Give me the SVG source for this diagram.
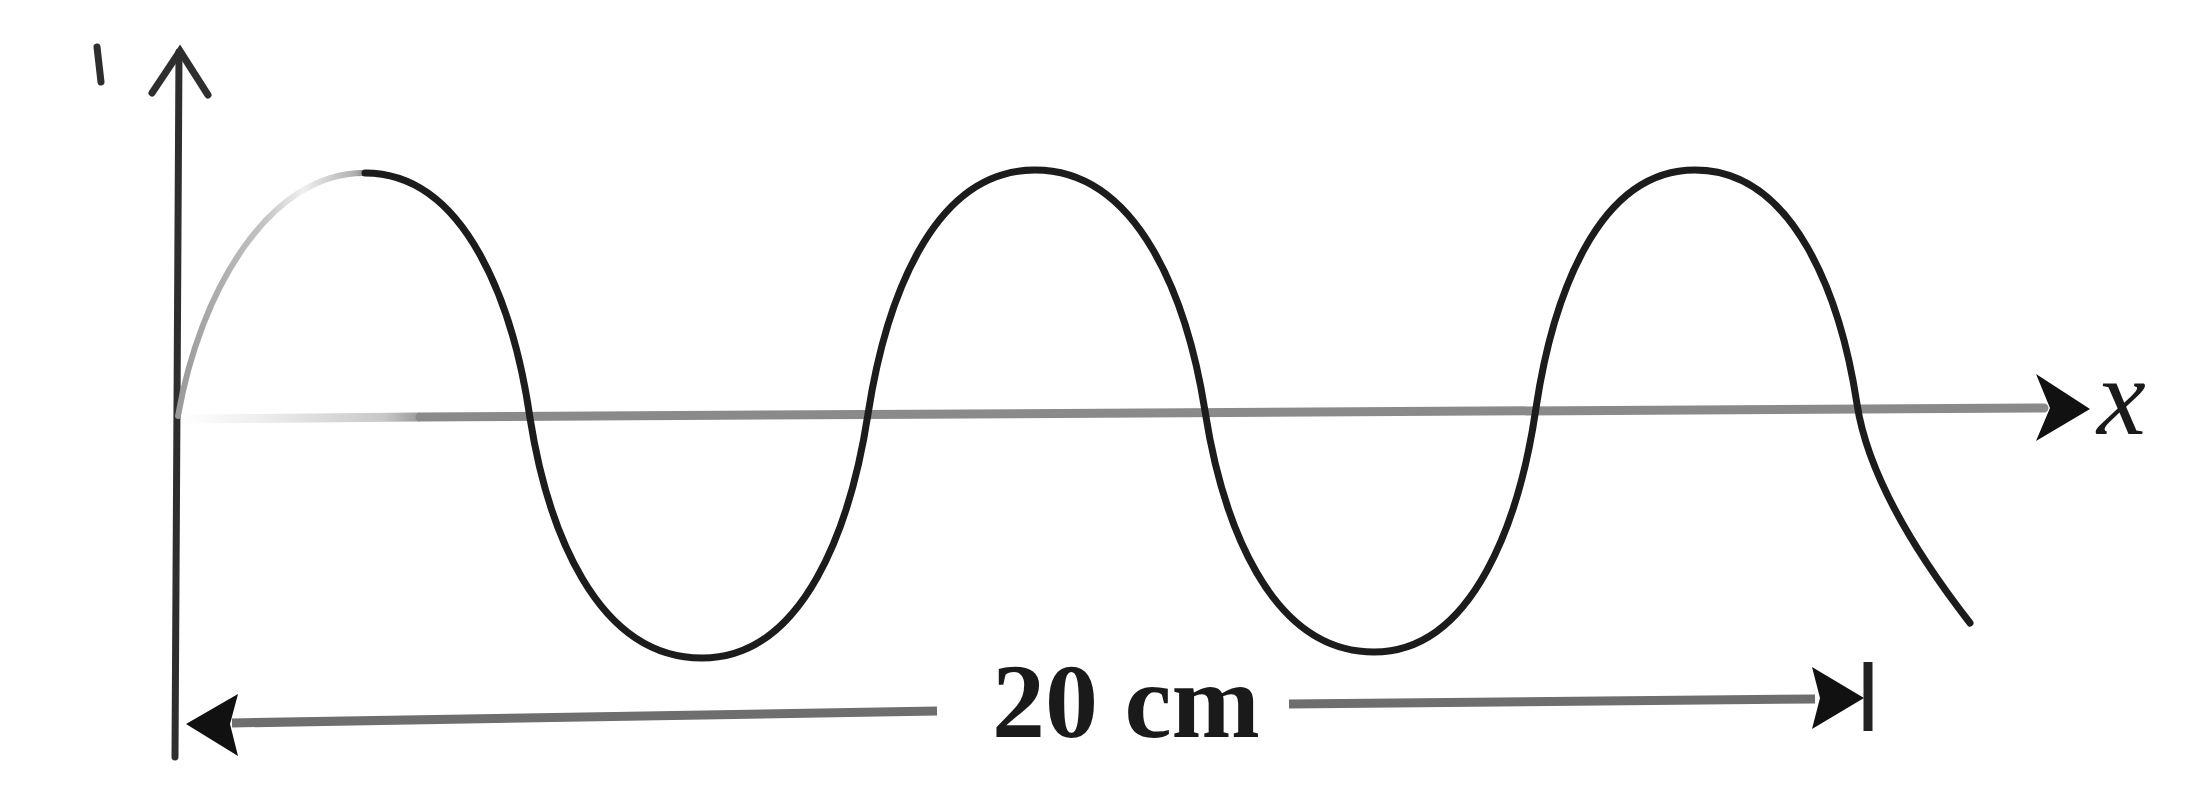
<svg xmlns="http://www.w3.org/2000/svg" width="2188" height="791" viewBox="0 0 2188 791">
  <defs>
    <style>
      .axis { stroke: #2e2e2e; stroke-width: 7; fill: none; stroke-linecap: round; }
      .xaxis { stroke: #8a8a8a; stroke-width: 9; fill: none; stroke-linecap: round; }
      .wave { stroke: #1c1c1c; stroke-width: 7; fill: none; stroke-linecap: round; }
      .dim { stroke: #6e6e6e; stroke-width: 9; fill: none; }
      .head { fill: #111; }
      .lbl { font-family: "Liberation Serif", "Times New Roman", serif; fill: #1a1a1a; }
    </style>
    <linearGradient id="fadeWave" gradientUnits="userSpaceOnUse" x1="178" y1="0" x2="370" y2="0">
      <stop offset="0" stop-color="#9a9a9a"/>
      <stop offset="0.45" stop-color="#c4c4c4"/>
      <stop offset="0.65" stop-color="#f0f0f0"/>
      <stop offset="0.92" stop-color="#b0b0b0"/>
      <stop offset="1" stop-color="#777"/>
    </linearGradient>
    <linearGradient id="fadeAxis" gradientUnits="userSpaceOnUse" x1="180" y1="0" x2="420" y2="0">
      <stop offset="0" stop-color="#ffffff"/>
      <stop offset="0.35" stop-color="#ededed"/>
      <stop offset="0.85" stop-color="#c8c8c8"/>
      <stop offset="1" stop-color="#9a9a9a"/>
    </linearGradient>
  </defs>

  <rect width="2188" height="791" fill="#ffffff"/>

  <g id="connectors">
    <g id="y-axis">
      <line class="axis" x1="179" y1="52" x2="175" y2="757"/>
      <polyline class="axis" points="152,93 180,51 208,95"/>
      <line class="axis" x1="97" y1="47" x2="101" y2="82" stroke-width="8"/>
    </g>
    <g id="x-axis">
      <line x1="182" y1="419" x2="420" y2="417" stroke="url(#fadeAxis)" stroke-width="9"/>
      <line class="xaxis" x1="420" y1="417" x2="2044" y2="408"/>
      <polygon class="head" points="2090,409 2036,374 2050,408 2036,441"/>
    </g>
    <g id="dimension">
      <line class="dim" x1="232" y1="723" x2="937" y2="711"/>
      <line class="dim" x1="1289" y1="704" x2="1815" y2="699"/>
      <polygon class="head" points="186,724 238,694 230,724 238,756"/>
      <polygon class="head" points="1864,698 1812,667 1820,698 1812,729"/>
      <line x1="1868" y1="662" x2="1868" y2="731" stroke="#222" stroke-width="9"/>
    </g>
  </g>

  <g id="wave">
    <path d="M178,416 C200,290 270,172 365,173" stroke="url(#fadeWave)" stroke-width="6" fill="none" stroke-linecap="round"/>
    <path class="wave" d="M365,173 C467,173 514,308 530,418
      C547,526 595,658 702,658
      C805,658 851,524 868,414
      C885,304 931,170 1035,170
      C1140,170 1188,303 1205,411
      C1222,520 1269,652 1374,652
      C1474,652 1520,518 1536,408
      C1552,301 1596,170 1695,170
      C1795,170 1841,299 1857,404
      C1869,483 1925,565 1970,623"/>
  </g>

  <g id="label-x">
    <text class="lbl" x="2097" y="434" font-size="110" font-style="italic" fill="#444">x</text>
  </g>
  <g id="label-20cm">
    <text class="lbl" x="992" y="737" font-size="106" font-weight="bold">20 cm</text>
  </g>
</svg>
